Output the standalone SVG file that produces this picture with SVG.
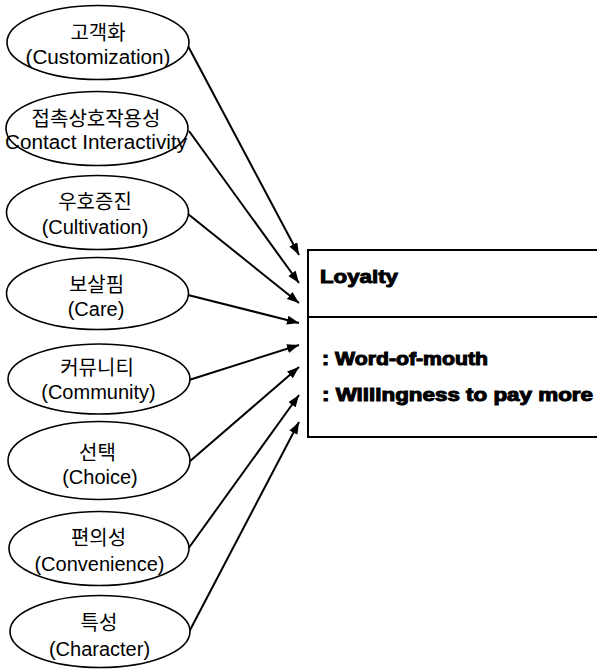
<svg xmlns="http://www.w3.org/2000/svg" width="597" height="670" viewBox="0 0 597 670">
<style>
.ell{fill:#fff;stroke:#000;stroke-width:1.6}
.ko{font-family:"Noto Sans CJK KR","Noto Sans CJK SC",sans-serif;font-size:20px;text-anchor:middle;fill:#000}
.en{font-family:"Liberation Sans",Arial,sans-serif;font-size:20px;text-anchor:middle;fill:#000}
.con{stroke:#000;stroke-width:2;fill:none;marker-end:url(#ah)}
.box{fill:#fff;stroke:#000;stroke-width:2}
.bt{font-family:"Liberation Sans",Arial,sans-serif;font-weight:bold;fill:#000;stroke:#000;stroke-width:1}
</style>
<defs>
<marker id="ah" markerUnits="userSpaceOnUse" markerWidth="14" markerHeight="10" refX="12" refY="4.5" orient="auto">
<path d="M0,0 L12,4.5 L0,9 Z" fill="#000"/>
</marker>
</defs>
<rect width="597" height="670" fill="#fff"/>
<g id="connectors">
<line class="con" x1="188" y1="46" x2="299" y2="255"/>
<line class="con" x1="189" y1="131" x2="299" y2="283"/>
<line class="con" x1="188" y1="214" x2="299" y2="303"/>
<line class="con" x1="188" y1="295" x2="299" y2="323"/>
<line class="con" x1="189" y1="380" x2="299" y2="345"/>
<line class="con" x1="189" y1="462" x2="299" y2="367"/>
<line class="con" x1="188" y1="549" x2="299" y2="395"/>
<line class="con" x1="189" y1="632" x2="299" y2="422"/>
</g>
<g id="n1"><ellipse class="ell" cx="98" cy="42.5" rx="91" ry="37"/><text class="ko" x="98" y="40">고객화</text><text class="en" x="98" y="64" textLength="145" lengthAdjust="spacingAndGlyphs">(Customization)</text></g>
<g id="n2"><ellipse class="ell" cx="97" cy="128.5" rx="91" ry="37"/><text class="ko" x="96" y="126">접촉상호작용성</text><text class="en" x="96" y="149" textLength="182" lengthAdjust="spacingAndGlyphs">Contact Interactivity</text></g>
<g id="n3"><ellipse class="ell" cx="97.5" cy="212.5" rx="91" ry="37"/><text class="ko" x="95" y="209">우호증진</text><text class="en" x="95" y="234">(Cultivation)</text></g>
<g id="n4"><ellipse class="ell" cx="97.5" cy="293.5" rx="91" ry="36"/><text class="ko" x="96.5" y="292">보살핌</text><text class="en" x="96" y="316">(Care)</text></g>
<g id="n5"><ellipse class="ell" cx="99" cy="379" rx="91" ry="35"/><text class="ko" x="97" y="375">커뮤니티</text><text class="en" x="98.5" y="399">(Community)</text></g>
<g id="n6"><ellipse class="ell" cx="99" cy="460.5" rx="91" ry="39"/><text class="ko" x="97.5" y="460">선택</text><text class="en" x="100" y="484">(Choice)</text></g>
<g id="n7"><ellipse class="ell" cx="99" cy="548.5" rx="90" ry="37"/><text class="ko" x="98.5" y="545">편의성</text><text class="en" x="99.5" y="571">(Convenience)</text></g>
<g id="n8"><ellipse class="ell" cx="100" cy="631.5" rx="90" ry="36"/><text class="ko" x="99" y="630">특성</text><text class="en" x="99.5" y="656">(Character)</text></g>
<g id="loyalty">
<rect class="box" x="308" y="250" width="300" height="187"/>
<line x1="308" y1="317" x2="600" y2="317" stroke="#000" stroke-width="2"/>
<text class="bt" x="320" y="283" font-size="19" textLength="78" lengthAdjust="spacingAndGlyphs">Loyalty</text>
<text class="bt" x="322" y="365" font-size="18" textLength="166" lengthAdjust="spacingAndGlyphs">: Word-of-mouth</text>
<text class="bt" x="322" y="401" font-size="18" textLength="271" lengthAdjust="spacingAndGlyphs">: Willingness to pay more</text>
</g>
</svg>
